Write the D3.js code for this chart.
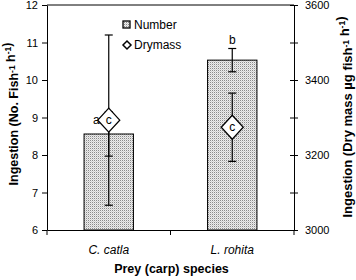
<!DOCTYPE html>
<html>
<head>
<meta charset="utf-8">
<script src="https://cdn.jsdelivr.net/npm/d3@7"></script>
<style>
  body { margin: 0; background: #fff; }
  svg { display: block; font-family: "Liberation Sans", Arial, sans-serif; }
</style>
</head>
<body>
<svg id="chart" width="356" height="280"></svg>
<script>
// data
const species = ["C. catla", "L. rohita"];
const numberMean = [8.56, 10.53];
const numberErr = [0.59, 0.31];
const drymassMean = [3293, 3274];
const drymassErr = [227, 91];
const numberLetters = ["a", "b"];
const drymassLetters = ["c", "c"];
const leftTicks = [6, 7, 8, 9, 10, 11, 12];
const rightTicks = [3000, 3200, 3400, 3600];
const rightMinorTicks = [3100, 3300, 3500];

const width = 356, height = 280;
const margin = { top: 5, right: 62, bottom: 50, left: 47 };
const svg = d3.select("#chart");

const x = d3.scaleBand()
    .domain(species)
    .range([margin.left, width - margin.right])
    .paddingInner(0.6)
    .paddingOuter(0.3);

const y = d3.scaleLinear().domain([6, 12]).range([height - margin.bottom, margin.top]);
const y2 = d3.scaleLinear().domain([3000, 3600]).range([height - margin.bottom, margin.top]);

const rows = species.map((s, i) => ({
    s, n: numberMean[i], ne: numberErr[i], d: drymassMean[i], de: drymassErr[i],
    nl: numberLetters[i], dl: drymassLetters[i]
}));
const cx = d => x(d.s) + x.bandwidth() / 2;

// dotted fill pattern
const defs = svg.append("defs");
const pat = defs.append("pattern").attr("id", "dots")
    .attr("width", 2).attr("height", 2).attr("patternUnits", "userSpaceOnUse");
pat.append("rect").attr("width", 2).attr("height", 2).attr("fill", "#ececec");
pat.append("rect").attr("width", 1).attr("height", 1).attr("fill", "#8a8a8a");
pat.append("rect").attr("x", 1).attr("y", 1).attr("width", 1).attr("height", 1).attr("fill", "#d0d0d0");

// bars
svg.append("g").selectAll("rect").data(rows).join("rect")
    .attr("x", d => x(d.s))
    .attr("y", d => y(d.n))
    .attr("width", x.bandwidth())
    .attr("height", d => y(6) - y(d.n))
    .attr("fill", "url(#dots)")
    .attr("stroke", "#000")
    .attr("stroke-width", 1);

// error bars
function errBar(g, cxv, ytop, ybot) {
    g.append("line").attr("x1", cxv).attr("x2", cxv).attr("y1", ytop).attr("y2", ybot);
    g.append("line").attr("x1", cxv - 4).attr("x2", cxv + 4).attr("y1", ytop).attr("y2", ytop);
    g.append("line").attr("x1", cxv - 4).attr("x2", cxv + 4).attr("y1", ybot).attr("y2", ybot);
}
const eg = svg.append("g").attr("stroke", "#000").attr("stroke-width", 1.2);
rows.forEach(d => {
    errBar(eg, cx(d), y(d.n + d.ne), y(d.n - d.ne));
    errBar(eg, cx(d), y2(d.d + d.de), y2(d.d - d.de));
});

// significance letters for Number
rows.forEach(d => {
    const yc = y(d.n + d.ne);
    const clash = Math.abs(yc - y2(d.d)) < 20;
    svg.append("text")
        .attr("x", clash ? cx(d) - 9 : cx(d))
        .attr("y", clash ? y2(d.d) + 4 : yc - 5)
        .attr("text-anchor", clash ? "end" : "middle")
        .attr("font-size", 12)
        .text(d.nl);
});

// diamonds
const dia = (w, h) => `M0,${-h}L${w},0L0,${h}L${-w},0Z`;
svg.append("g").selectAll("path").data(rows).join("path")
    .attr("transform", d => `translate(${cx(d)},${y2(d.d)})`)
    .attr("d", dia(11, 12))
    .attr("fill", "#fff")
    .attr("stroke", "#000")
    .attr("stroke-width", 1.3);
svg.append("g").selectAll("text").data(rows).join("text")
    .attr("x", d => cx(d))
    .attr("y", d => y2(d.d) + 4)
    .attr("text-anchor", "middle")
    .attr("font-size", 12)
    .text(d => d.dl);

// frame top line
svg.append("line")
    .attr("x1", margin.left).attr("x2", width - margin.right)
    .attr("y1", margin.top).attr("y2", margin.top)
    .attr("stroke", "#000");

// left axis
svg.append("g")
    .attr("transform", `translate(${margin.left},0)`)
    .call(d3.axisLeft(y).tickValues(leftTicks).tickFormat(d3.format("d")).tickSize(5).tickPadding(4).tickSizeOuter(0))
    .call(g => g.selectAll("text").attr("font-size", 11).attr("font-family", "Liberation Sans, Arial"));

// right axis (ticks cross the line)
svg.append("g")
    .attr("transform", `translate(${width - margin.right},0)`)
    .call(d3.axisRight(y2).tickValues(rightTicks.concat(rightMinorTicks)).tickSize(4).tickPadding(7).tickSizeOuter(0)
        .tickFormat(v => rightTicks.includes(v) ? v : ""))
    .call(g => g.selectAll("text").attr("font-size", 11).attr("font-family", "Liberation Sans, Arial"));
svg.append("g")
    .attr("transform", `translate(${width - margin.right},0)`)
    .call(d3.axisLeft(y2).tickValues(rightTicks.concat(rightMinorTicks)).tickSize(4).tickFormat("").tickSizeOuter(0))
    .call(g => g.select(".domain").remove());

// bottom axis
const bottom = svg.append("g")
    .attr("transform", `translate(0,${height - margin.bottom})`)
    .call(d3.axisBottom(x).tickSize(0).tickPadding(15).tickSizeOuter(0))
    .call(g => g.selectAll("text").attr("font-size", 12).attr("font-style", "italic").attr("font-family", "Liberation Sans, Arial"));
const [r0, r1] = x.range();
const bounds = [r0, (r0 + r1) / 2, r1];
bottom.selectAll(".sep").data(bounds).join("line")
    .attr("class", "sep")
    .attr("x1", d => d).attr("x2", d => d)
    .attr("y1", 0).attr("y2", 5)
    .attr("stroke", "#000");

// axis titles
svg.append("text")
    .attr("x", (r0 + r1) / 2 + 1)
    .attr("y", height - 7)
    .attr("text-anchor", "middle")
    .attr("font-size", 12.5)
    .attr("font-weight", "bold")
    .text("Prey (carp) species");

function titleWithSup(t, parts) {
    parts.forEach(([txt, sup]) => {
        if (sup) {
            t.append("tspan").attr("dy", -3.5).attr("font-size", 8.5).text(txt);
            t.append("tspan").attr("dy", 3.5).text("");
        } else {
            t.append("tspan").text(txt);
        }
    });
}
const lt = svg.append("text")
    .attr("transform", `translate(18,114) rotate(-90)`)
    .attr("text-anchor", "middle")
    .attr("font-size", 12.5)
    .attr("font-weight", "bold");
titleWithSup(lt, [["Ingestion (No. Fish", false], ["-1", true], [" h", false], ["-1", true], [")", false]]);

const rt = svg.append("text")
    .attr("transform", `translate(352,117) rotate(-90)`)
    .attr("text-anchor", "middle")
    .attr("font-size", 13)
    .attr("font-weight", "bold");
titleWithSup(rt, [["Ingestion (Dry mass \u00b5g  fish", false], ["-1", true], [" h", false], ["-1", true], [")", false]]);

// legend
const lg = svg.append("g").attr("font-size", 12);
lg.append("rect").attr("x", 123).attr("y", 21).attr("width", 7).attr("height", 7)
    .attr("fill", "url(#dots)").attr("stroke", "#000").attr("stroke-width", 1.3);
lg.append("text").attr("x", 134).attr("y", 29).text("Number");
lg.append("path").attr("transform", "translate(127,45)").attr("d", dia(4, 4))
    .attr("fill", "#fff").attr("stroke", "#000").attr("stroke-width", 1.5);
lg.append("text").attr("x", 134).attr("y", 49).text("Drymass");
</script>
</body>
</html>
